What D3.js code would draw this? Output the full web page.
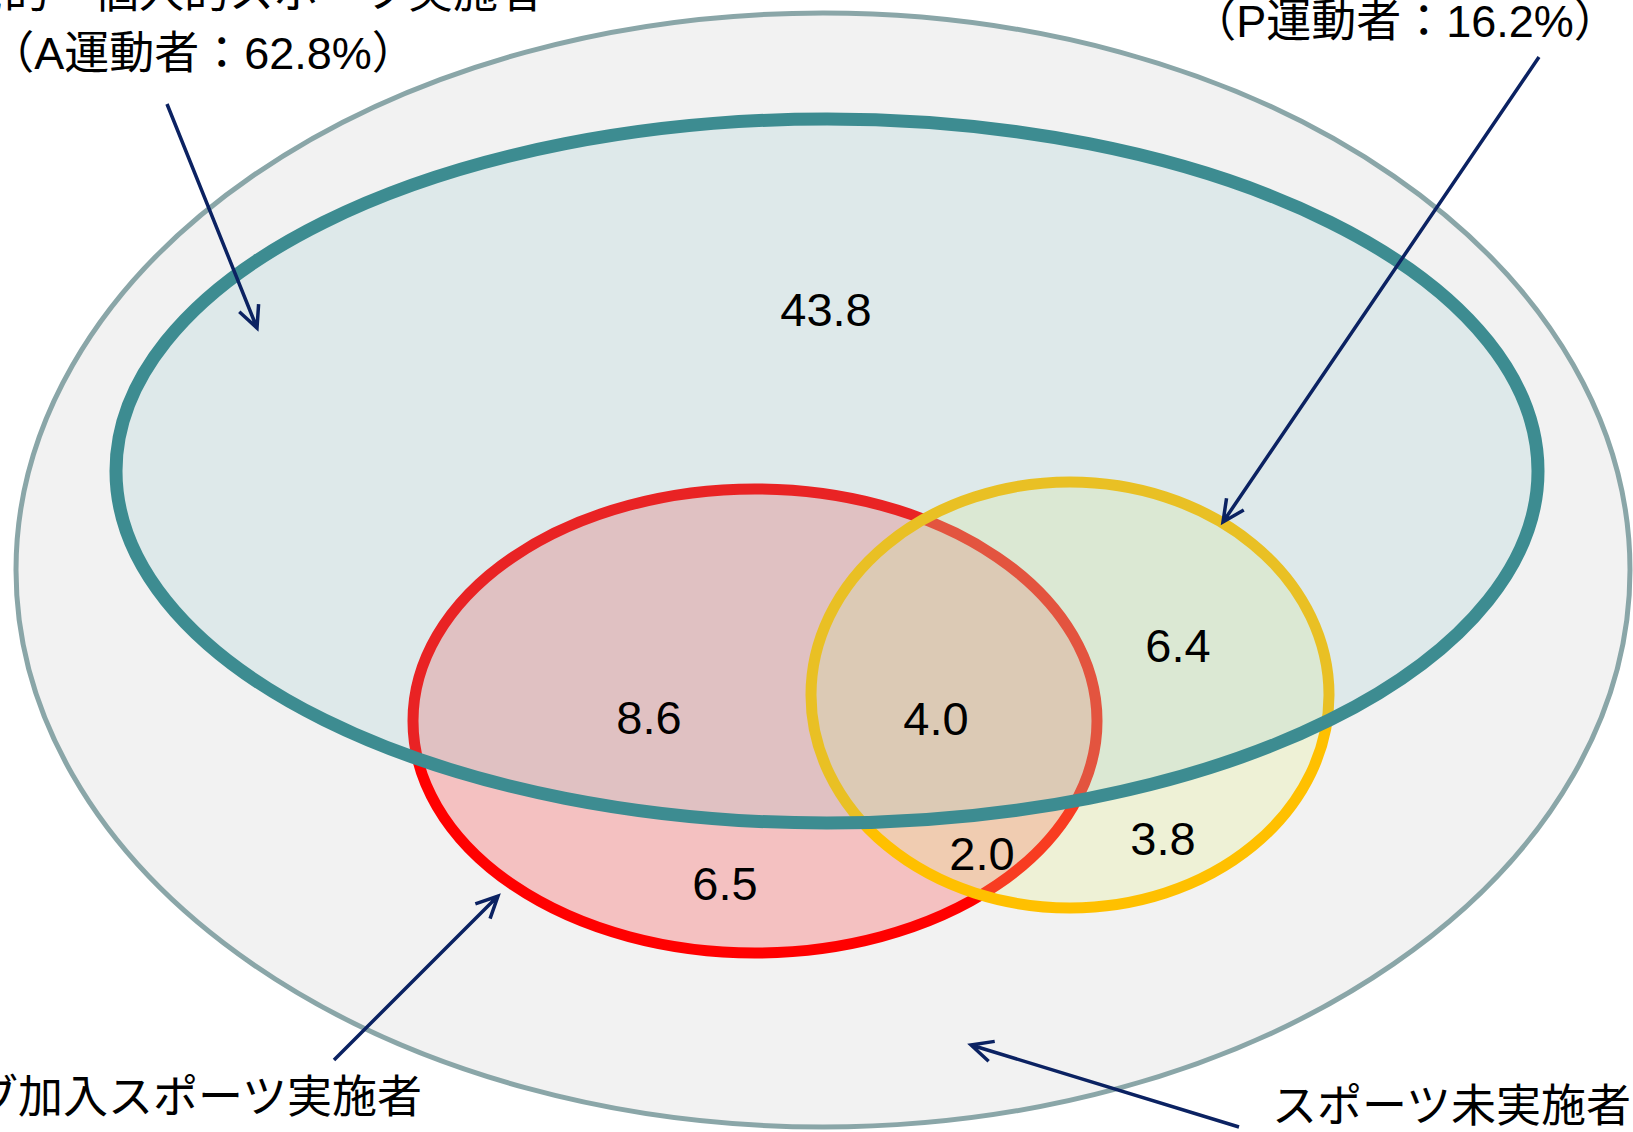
<!DOCTYPE html>
<html lang="ja">
<head>
<meta charset="utf-8">
<script src="https://cdn.jsdelivr.net/npm/d3@7"></script>
<style>
  html, body { margin: 0; padding: 0; background: #ffffff; overflow: hidden; }
  svg { display: block; }
  text { font-family: "Liberation Sans", Arial, "Noto Sans CJK JP", sans-serif; }
</style>
</head>
<body>
<svg id="chart" width="1633" height="1132"></svg>
<script>
// Region shares (%) of each segment of the diagram
const regionNames  = ["Aのみ", "A∩C", "A∩C∩P", "A∩P", "Cのみ", "C∩P", "Pのみ"];
const regionValues = [43.8, 8.6, 4.0, 6.4, 6.5, 2.0, 3.8];

// Group totals shown in the captions
const groupNames  = ["A運動者", "P運動者"];
const groupTotals = [62.8, 16.2];

// Caption texts
const captionA1 = "自発的・個人的スポーツ実施者";
const captionC  = "クラブ加入スポーツ実施者";
const captionN  = "スポーツ未実施者";

const W = 1633, H = 1132;
const svg = d3.select("#chart");

// Ellipse layout, drawn back to front
const sets = [
  { id: "all",  cx: 823,  cy: 570, rx: 807, ry: 557, fill: "#f2f2f2", fo: 1,    stroke: "#8aa6a8", sw: 5 },
  { id: "club", cx: 755,  cy: 721, rx: 342, ry: 232, fill: "#ff0000", fo: 0.2,  stroke: "#ff0000", sw: 11 },
  { id: "P",    cx: 1070, cy: 695, rx: 259, ry: 213, fill: "#e2ee82", fo: 0.25, stroke: "#ffc000", sw: 11 },
  { id: "A",    cx: 827,  cy: 471, rx: 711, ry: 352, fill: "#83c0c6", fo: 0.18, stroke: "#3d8c91", sw: 13 }
];

svg.append("g").attr("class", "sets")
  .selectAll("ellipse")
  .data(sets)
  .join("ellipse")
  .attr("cx", d => d.cx).attr("cy", d => d.cy)
  .attr("rx", d => d.rx).attr("ry", d => d.ry)
  .attr("fill", d => d.fill).attr("fill-opacity", d => d.fo)
  .attr("stroke", d => d.stroke).attr("stroke-width", d => d.sw);

// Label anchor for each region value
const regionAnchor = [
  [826, 326], [649, 734], [936, 735], [1178, 662], [725, 900], [982, 870], [1163, 855]
];
const fmt = d3.format(".1f");

svg.append("g").attr("class", "values")
  .selectAll("text")
  .data(regionValues)
  .join("text")
  .attr("x", (d, i) => regionAnchor[i][0])
  .attr("y", (d, i) => regionAnchor[i][1])
  .attr("text-anchor", "middle")
  .attr("font-size", 47)
  .attr("fill", "#000")
  .text(d => fmt(d));

// Callout arrows (start → tip)
const arrows = [
  [[167, 104], [257, 328]],
  [[1539, 57], [1223, 522]],
  [[334, 1060], [498, 896]],
  [[1239, 1127], [971, 1045]]
];
const headLen = 24, headAng = Math.PI / 7;
const arrowPath = ([[x0, y0], [x1, y1]]) => {
  const a = Math.atan2(y1 - y0, x1 - x0);
  const p = d3.path();
  p.moveTo(x0, y0); p.lineTo(x1, y1);
  p.moveTo(x1 - headLen * Math.cos(a - headAng), y1 - headLen * Math.sin(a - headAng));
  p.lineTo(x1, y1);
  p.lineTo(x1 - headLen * Math.cos(a + headAng), y1 - headLen * Math.sin(a + headAng));
  return p.toString();
};
svg.append("g").attr("class", "arrows")
  .selectAll("path")
  .data(arrows)
  .join("path")
  .attr("d", arrowPath)
  .attr("fill", "none")
  .attr("stroke", "#0b2262")
  .attr("stroke-width", 3.5)
  .attr("stroke-linejoin", "miter");

// Captions
const captions = [
  { t: captionA1, x: 543,  y: 8,    anchor: "end" },
  { t: `（${groupNames[0]}：${fmt(groupTotals[0])}%）`, x: 203, y: 69, anchor: "middle" },
  { t: `（${groupNames[1]}：${fmt(groupTotals[1])}%）`, x: 1405, y: 37, anchor: "middle" },
  { t: captionC,  x: 422,  y: 1113, anchor: "end" },
  { t: captionN,  x: 1272, y: 1122, anchor: "start" }
];
svg.append("g").attr("class", "captions")
  .selectAll("text")
  .data(captions)
  .join("text")
  .attr("x", d => d.x).attr("y", d => d.y)
  .attr("text-anchor", d => d.anchor)
  .attr("font-size", 45)
  .attr("fill", "#000")
  .text(d => d.t);
</script>
</body>
</html>
